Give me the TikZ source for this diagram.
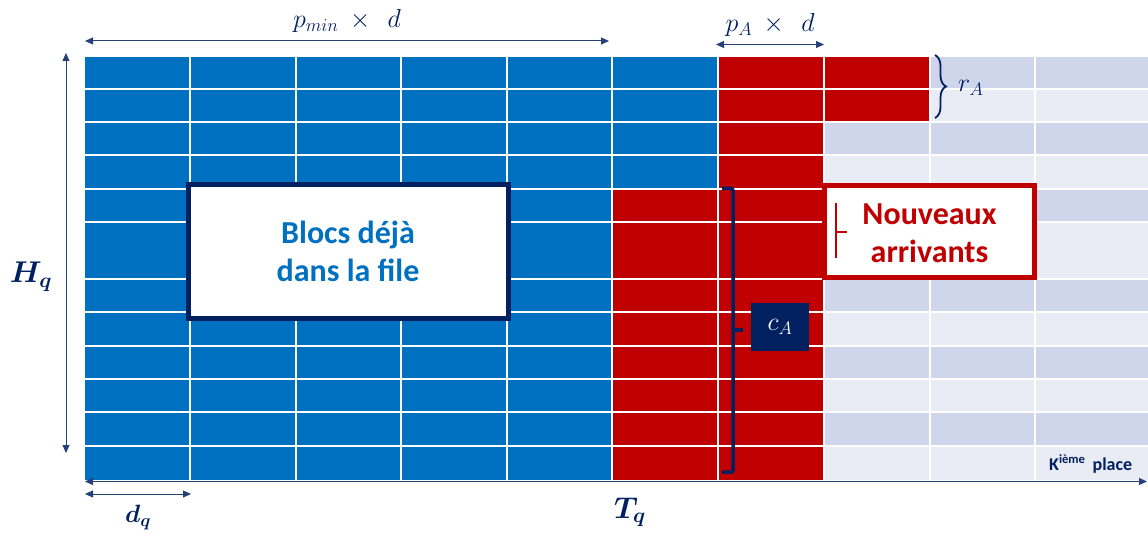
\documentclass[tikz,border=0pt]{standalone}
\usepackage{fix-cm}
\usepackage{fontspec}
\setsansfont{Carlito}
\usepackage{amsmath}
\usepackage{bm}
\usepackage{xcolor}
\usetikzlibrary{arrows.meta, positioning, calc, decorations.pathreplacing}
\definecolor{qblue}{RGB}{0, 112, 192}
\definecolor{qred}{RGB}{192, 0, 0}
\definecolor{qnavy}{RGB}{0, 32, 96}
\definecolor{qlightA}{RGB}{207, 213, 234}
\definecolor{qlightB}{RGB}{233, 235, 245}

\begin{document}
\begin{tikzpicture}[x=1pt, y=-1pt, >={Triangle[length=8pt, width=7pt]},
  cellline/.style={white, line width=1.7pt},
  dim/.style={<->, draw=qnavy!85, line width=1pt},
  mlabel/.style={text=qnavy, inner sep=0pt, font=\fontsize{26}{30}\selectfont},
  blabel/.style={text=qnavy, inner sep=0pt, font=\fontsize{30}{34}\selectfont},
  infobox/.style={draw, line width=5pt, fill=white, align=center, inner sep=0pt,
    font=\sffamily\bfseries\fontsize{32}{38}\selectfont}]

  \useasboundingbox (0,0) rectangle (1148,534);

  % --- free places (alternating rows) ---
  \foreach \ya/\yb/\c in {57/89/qlightA, 89/122/qlightB, 122/155/qlightA,
      155/189/qlightB, 189/222/qlightA, 222/279/qlightB, 279/312/qlightA,
      312/346/qlightB, 346/379/qlightA, 379/412/qlightB, 412/446/qlightA,
      446/480/qlightB}
    \fill[\c] (824,\ya) rectangle (1148,\yb);

  % --- blocks already queued ---
  \fill[qblue] (85,57) rectangle (612,480);
  \fill[qblue] (612,57) rectangle (718,189);

  % --- new arrivals ---
  \fill[qred] (612,189) rectangle (718,480);
  \fill[qred] (718,57) rectangle (824,480);
  \fill[qred] (824,57) rectangle (930,122);

  % --- grid ---
  \foreach \y in {89,122,155,189,222,279,312,346,379,412,446}
    \draw[cellline] (85,\y) -- (1148,\y);
  \foreach \x in {190,296,401,507,612,718,824,930,1035}
    \draw[cellline] (\x,57) -- (\x,480);

  % --- grid corners ---
  \coordinate (nw) at (85,57);
  \coordinate (sw) at (85,481.5);
  \coordinate (se) at (1147,481.5);

  % --- dimension arrows ---
  \coordinate (pminL) at (85,41);
  \coordinate (pminR) at (609,41);
  \draw[dim] (pminL) -- node[mlabel, above=8pt] (pmin)
    {$p_{min}\mskip4mu\times\mskip8mu d$} (pminR);

  \coordinate (pAL) at (716,44.5);
  \coordinate (pAR) at (824,44.5);
  \draw[dim] (pAL) -- node[mlabel, above=7pt] (pA)
    {$p_A\mskip4mu\times\mskip8mu d$} (pAR);

  \coordinate (hqT) at (66,53);
  \coordinate (hqB) at (66,453);
  \draw[dim] (hqT) -- (hqB);
  \node[blabel] (hq) at (31,277) {$\bm{H_q}$};

  \draw[dim] (sw) -- (se);
  \node[blabel] (tq) at (630,512) {$\bm{T_q}$};

  \coordinate (dqL) at (85,494);
  \coordinate (dqR) at (191,494);
  \draw[dim] (dqL) -- node[mlabel, below=11pt, font=\fontsize{25}{29}\selectfont] (dq)
    {$\bm{d_q}$} (dqR);

  \node[anchor=base west, inner sep=0pt, text=qnavy,
    font=\sffamily\bfseries\fontsize{18}{20}\selectfont] (kplace) at (1049,470.5)
    {K\textsuperscript{ième}\hspace{7pt}place};

  % --- r_A brace ---
  \draw[qnavy, line width=1.8pt, decorate,
    decoration={brace, amplitude=11pt}] (935,55) -- (935,118);
  \node[mlabel, anchor=base west] (rA) at (958,92) {$r_A$};

  % --- c_A bracket ---
  \draw[qnavy, line width=3.5pt, rounded corners=2pt]
    (722,188.5) -- (733,188.5) -- (733,472) -- (722,472);
  \draw[qnavy, line width=3.5pt] (733,330) -- (743,330);
  \node[fill=qnavy, text=white, minimum width=58pt, minimum height=48pt,
    inner sep=0pt, font=\fontsize{26}{30}\selectfont] (cA) at (780,327) {$c_A$};

  % --- text boxes ---
  \node[infobox, draw=qnavy, text=qblue, minimum width=320pt,
    minimum height=134pt] (blocs) at (348,251.5) {Blocs déjà\\dans la file};
  \node[infobox, draw=qred, text=qred, minimum width=210pt,
    minimum height=92pt] (nouveaux) at (929.5,231.5)
    {\rule{0pt}{25pt}Nouveaux\\arrivants};
  \draw[qred, line width=1.5pt] (836,203) -- (836,258);
  \draw[qred, line width=1.5pt] (836,232) -- (847,232);

\end{tikzpicture}
\end{document}
